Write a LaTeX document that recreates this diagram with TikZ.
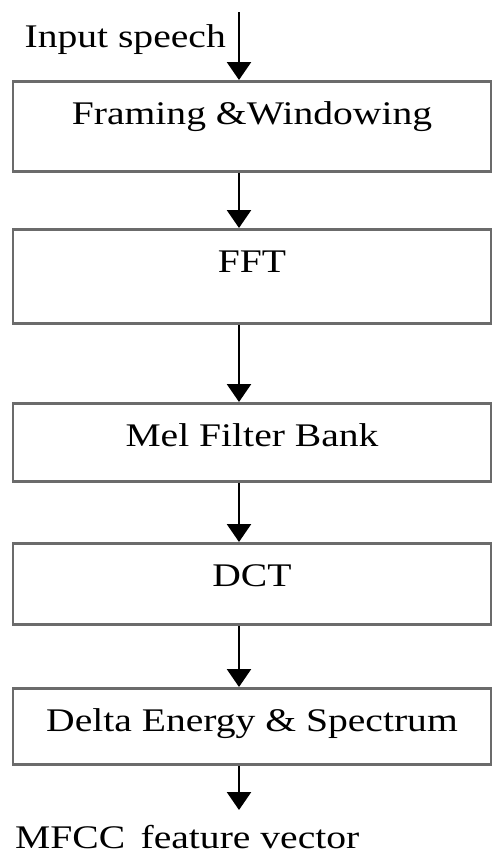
\documentclass[tikz,border=0pt]{standalone}
\usepackage{fontspec}
\setmainfont{Liberation Serif}[FakeStretch=1.2]
\usetikzlibrary{positioning}
\usetikzlibrary{arrows.meta}

\tikzset{
  stage/.style={draw=black!58, line width=2.6pt, minimum width=478pt, inner sep=0pt, text height=43pt},
  flow/.style={line width=2.6pt, -{Triangle[width=24pt,length=18pt]}},
  plain/.style={inner sep=0pt}
}

\begin{document}
\begin{tikzpicture}[x=1pt, y=-1pt, font=\fontsize{33}{40}\selectfont]
  \useasboundingbox (0,0) rectangle (492,854);

  % input and output ends of the chain
  \coordinate (in) at (239,12);
  \coordinate (out) at (239,810);
  \node[plain, anchor=base east] (input) at (226,47) {Input speech};
  \node[plain, anchor=base west] (mfcc) at (15,848) {MFCC\, feature vector};

  % processing stages
  \node[stage, anchor=north, text depth=47pt] (frame) at (252,80) {Framing \&Windowing};
  \node[stage, anchor=north, text depth=51pt] (fft) at (252,228) {FFT};
  \node[stage, anchor=north, text depth=35pt] (mel) at (252,402) {Mel Filter Bank};
  \node[stage, anchor=north, text depth=38pt] (dct) at (252,542) {DCT};
  \node[stage, anchor=north, text depth=33pt] (delta) at (252,687) {Delta Energy \& Spectrum};

  % arrows
  \draw[flow] (in) -- (frame.north -| in);
  \draw[flow] (frame.south -| in) -- (fft.north -| in);
  \draw[flow] (fft.south -| in) -- (mel.north -| in);
  \draw[flow] (mel.south -| in) -- (dct.north -| in);
  \draw[flow] (dct.south -| in) -- (delta.north -| in);
  \draw[flow] (delta.south -| in) -- (out);
\end{tikzpicture}
\end{document}
